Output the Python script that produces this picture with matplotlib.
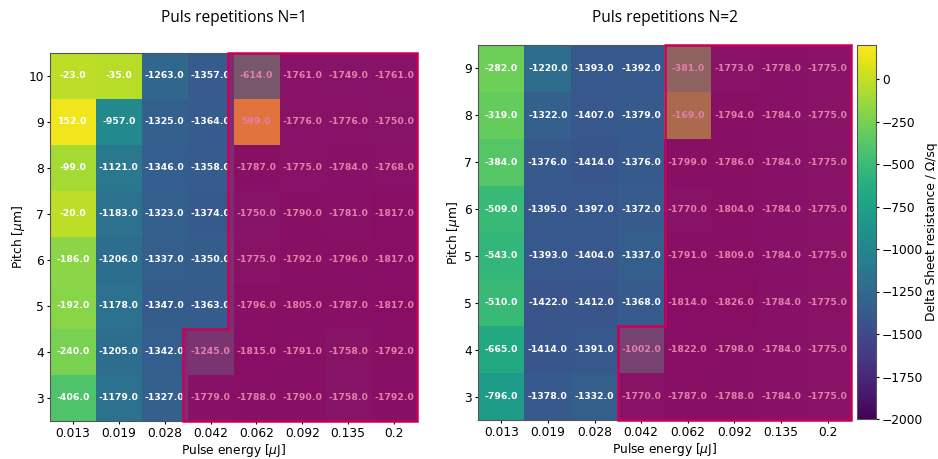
import numpy as np
import matplotlib
matplotlib.use("Agg")
import matplotlib.pyplot as plt
from matplotlib.patches import Polygon

energies = ["0.013", "0.019", "0.028", "0.042", "0.062", "0.092", "0.135", "0.2"]

pitch_n1 = ["10", "9", "8", "7", "6", "5", "4", "3"]
dsr_n1 = [
    [-23.0, -35.0, -1263.0, -1357.0, -614.0, -1761.0, -1749.0, -1761.0],
    [152.0, -957.0, -1325.0, -1364.0, 599.0, -1776.0, -1776.0, -1750.0],
    [-99.0, -1121.0, -1346.0, -1358.0, -1787.0, -1775.0, -1784.0, -1768.0],
    [-20.0, -1183.0, -1323.0, -1374.0, -1750.0, -1790.0, -1781.0, -1817.0],
    [-186.0, -1206.0, -1337.0, -1350.0, -1775.0, -1792.0, -1796.0, -1817.0],
    [-192.0, -1178.0, -1347.0, -1363.0, -1796.0, -1805.0, -1787.0, -1817.0],
    [-240.0, -1205.0, -1342.0, -1245.0, -1815.0, -1791.0, -1758.0, -1792.0],
    [-406.0, -1179.0, -1327.0, -1779.0, -1788.0, -1790.0, -1758.0, -1792.0],
]

pitch_n2 = ["9", "8", "7", "6", "5", "5", "4", "3"]
dsr_n2 = [
    [-282.0, -1220.0, -1393.0, -1392.0, -381.0, -1773.0, -1778.0, -1775.0],
    [-319.0, -1322.0, -1407.0, -1379.0, -169.0, -1794.0, -1784.0, -1775.0],
    [-384.0, -1376.0, -1414.0, -1376.0, -1799.0, -1786.0, -1784.0, -1775.0],
    [-509.0, -1395.0, -1397.0, -1372.0, -1770.0, -1804.0, -1784.0, -1775.0],
    [-543.0, -1393.0, -1404.0, -1337.0, -1791.0, -1809.0, -1784.0, -1775.0],
    [-510.0, -1422.0, -1412.0, -1368.0, -1814.0, -1826.0, -1784.0, -1775.0],
    [-665.0, -1414.0, -1391.0, -1002.0, -1822.0, -1798.0, -1784.0, -1775.0],
    [-796.0, -1378.0, -1332.0, -1770.0, -1787.0, -1788.0, -1784.0, -1775.0],
]

# Ablated region: first ablated column in the upper and lower block
ablation_step_col = (4, 3)
ablation_step_row = 6        # first row index that belongs to the lower block

VMIN, VMAX = -2000, 200
HL_EDGE = "#c8005a"
HL_FACE = (0.78, 0.0, 0.35, 0.5)
FS = 8.8

W, H = 938, 459
fig = plt.figure(figsize=(W / 100, H / 100), dpi=100)


def ax_rect(x0, y0, x1, y1):
    return [x0 / W, 1 - y1 / H, (x1 - x0) / W, (y1 - y0) / H]


def heatmap(ax, data, ylabels, xshift):
    arr = np.array(data)
    im = ax.imshow(arr, cmap="viridis", vmin=VMIN, vmax=VMAX, aspect="auto")
    for r in range(arr.shape[0]):
        for c in range(arr.shape[1]):
            ax.text(c, r, f"{arr[r, c]:.1f}", ha="center", va="center",
                    color="white", fontsize=6.7, fontweight="bold")
    ax.set_xticks(range(len(energies)))
    ax.set_xticklabels(energies, fontsize=FS)
    ax.set_yticks(range(len(ylabels)))
    ax.set_yticklabels(ylabels, fontsize=FS)
    ax.tick_params(length=2.2, pad=2)
    ax.set_xlabel("Pulse energy [$\\mu$J]", fontsize=FS, labelpad=1.5)
    ax.set_ylabel("Pitch [$\\mu$m]", fontsize=FS, labelpad=1.5)
    for s in ax.spines.values():
        s.set_edgecolor("#555555")
        s.set_linewidth(0.8)

    nrows, ncols = arr.shape
    ca, cb = ablation_step_col
    top, bot = -0.5, nrows - 0.5
    right = ncols - 0.5
    verts = [
        (ca - 0.5 + xshift, top),
        (right, top),
        (right, bot),
        (cb - 0.5 + xshift, bot),
        (cb - 0.5 + xshift, ablation_step_row - 0.5),
        (ca - 0.5 + xshift, ablation_step_row - 0.5),
    ]
    poly = Polygon(verts, closed=True, facecolor=HL_FACE,
                   edgecolor=HL_EDGE, linewidth=1.8, zorder=5, clip_on=False)
    ax.add_patch(poly)
    return im


ax1 = fig.add_axes(ax_rect(50, 53, 417, 421))
heatmap(ax1, dsr_n1, pitch_n1, xshift=-0.11)
fig.text(234 / W, 1 - 18 / H, "Puls repetitions N=1", ha="center", va="center",
         fontsize=11.2, family="Open Sans")

ax2 = fig.add_axes(ax_rect(478, 45, 851, 420))
im2 = heatmap(ax2, dsr_n2, pitch_n2, xshift=0.0)
fig.text(665 / W, 1 - 18 / H, "Puls repetitions N=2", ha="center", va="center",
         fontsize=11.2, family="Open Sans")

cax = fig.add_axes(ax_rect(857, 45, 876, 419))
cb = fig.colorbar(im2, cax=cax, ticks=np.arange(-2000, 1, 250))
cb.ax.tick_params(labelsize=FS, length=2.2, pad=2)
cb.set_label("Delta Sheet resistance / Ω/sq", fontsize=FS, labelpad=1)
cb.outline.set_edgecolor("#555555")

fig.savefig("out.png", dpi=100)
